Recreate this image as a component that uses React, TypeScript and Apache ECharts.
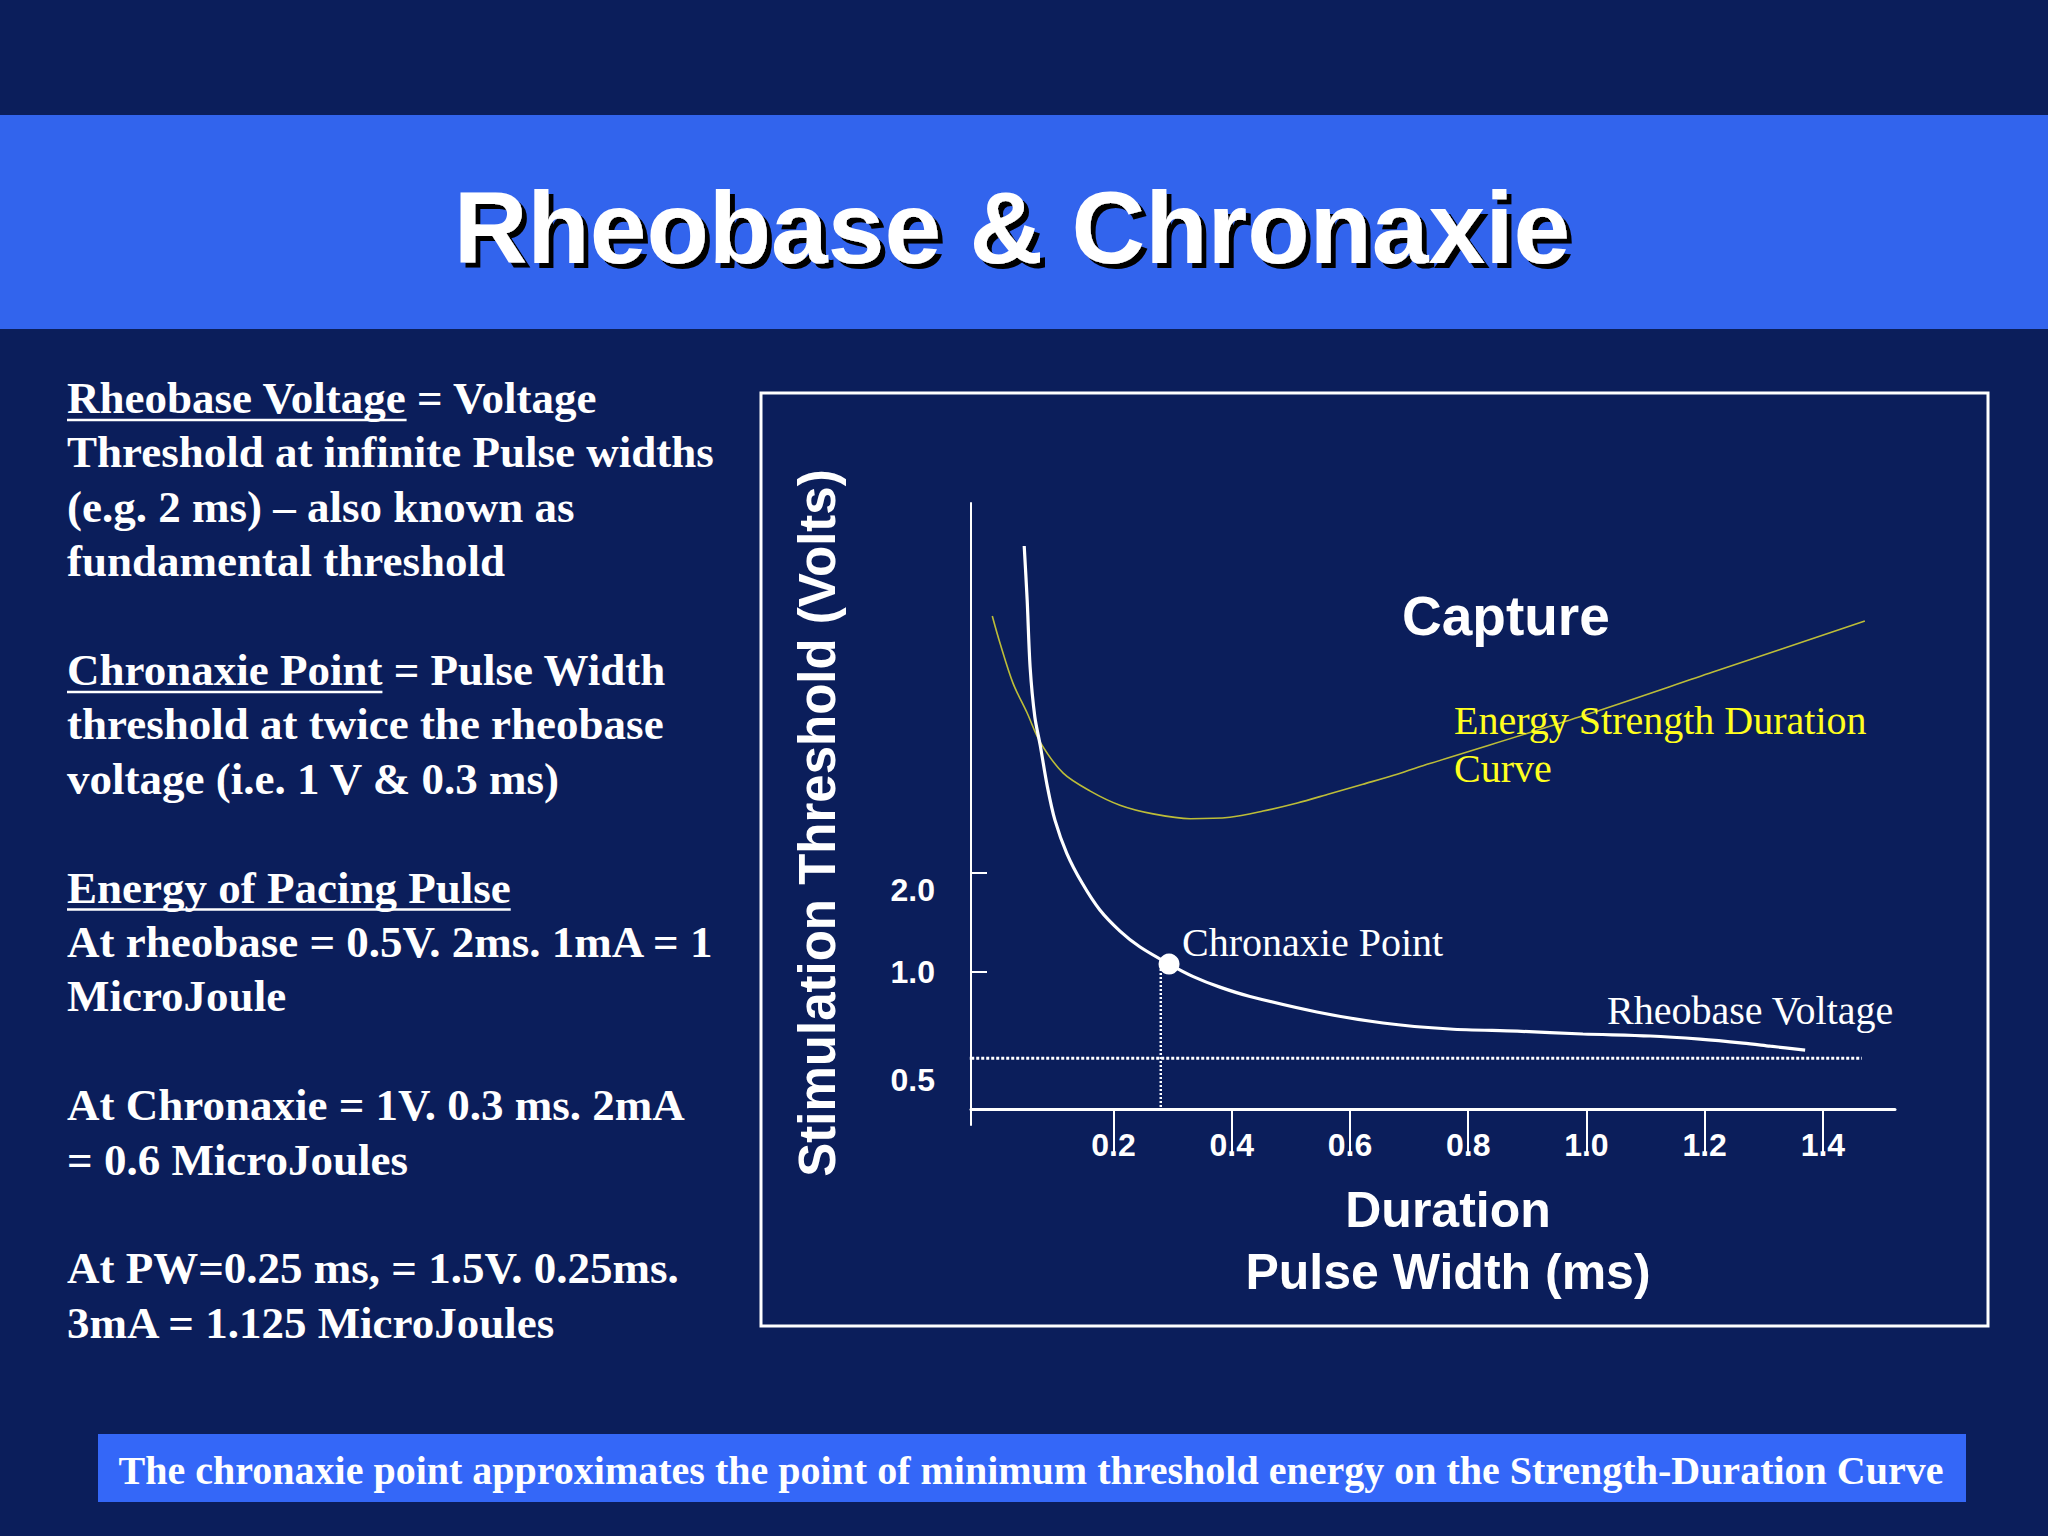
import React, { useEffect, useRef } from 'react';
import * as echarts from 'echarts';

// ---------------- data ----------------
const xTickValues = [0.2, 0.4, 0.6, 0.8, 1.0, 1.2, 1.4];
const yTickValues = [1.0, 2.0];
const yLabelValues = [0.5, 1.0, 2.0];
const xRange = [-0.041, 1.522];
const yRange = [0.3432, 26.71];

// Strength-duration curve (pulse width ms, threshold V)
const strengthDuration: [number, number][] = [
  [0.049, 19.77],
  [0.054, 13.55],
  [0.059, 8.47],
  [0.067, 5.97],
  [0.076, 4.91],
  [0.088, 3.68],
  [0.101, 2.9],
  [0.121, 2.3],
  [0.147, 1.867],
  [0.177, 1.546],
  [0.211, 1.334],
  [0.245, 1.193],
  [0.294, 1.059],
  [0.335, 0.97],
  [0.38, 0.901],
  [0.431, 0.844],
  [0.544, 0.757],
  [0.656, 0.701],
  [0.769, 0.672],
  [0.883, 0.662],
  [0.994, 0.649],
  [1.108, 0.64],
  [1.192, 0.626],
  [1.265, 0.609],
  [1.311, 0.596],
  [1.37, 0.58],
];

// Energy strength-duration curve
const energyCurve: [number, number][] = [
  [-0.005, 12.11],
  [0.008, 10.02],
  [0.03, 7.57],
  [0.054, 6.14],
  [0.076, 5.01],
  [0.115, 4.03],
  [0.16, 3.56],
  [0.211, 3.22],
  [0.267, 3.03],
  [0.33, 2.93],
  [0.397, 2.96],
  [0.453, 3.09],
  [0.511, 3.27],
  [0.566, 3.49],
  [0.622, 3.73],
  [0.68, 4.0],
  [0.735, 4.31],
  [0.989, 5.98],
  [1.214, 8.18],
  [1.471, 11.69],
];

const chronaxiePoint: [number, number] = [0.294, 1.059];
const chronaxieDropX = 0.28;
const xAxisLevel = 0.389;
const rheobaseLevel = 0.548;
const rheobaseSpan = [-0.066, 1.466];

const titleText = 'Rheobase & Chronaxie';
const yAxisTitle = 'Stimulation Threshold (Volts)';
const xAxisTitle = 'Duration\nPulse Width (ms)';
const chronaxieLabel = 'Chronaxie Point';
const rheobaseLabel = 'Rheobase Voltage';
const captureLabel = 'Capture';
const energyLabelLines = ['Energy Strength Duration', 'Curve'];
const bannerText =
  'The chronaxie point approximates the point of minimum threshold energy on the Strength-Duration Curve';

const leftLines: { slot: number; text: string; ul?: string }[] = [
  { slot: 0, text: 'Rheobase Voltage = Voltage', ul: 'Rheobase Voltage' },
  { slot: 1, text: 'Threshold at infinite Pulse widths' },
  { slot: 2, text: '(e.g. 2 ms) \u2013 also known as' },
  { slot: 3, text: 'fundamental threshold' },
  { slot: 5, text: 'Chronaxie Point = Pulse Width', ul: 'Chronaxie Point' },
  { slot: 6, text: 'threshold at twice the rheobase' },
  { slot: 7, text: 'voltage (i.e. 1 V & 0.3 ms)' },
  { slot: 9, text: 'Energy of Pacing Pulse', ul: 'Energy of Pacing Pulse' },
  { slot: 10, text: 'At rheobase = 0.5V. 2ms. 1mA = 1' },
  { slot: 11, text: 'MicroJoule' },
  { slot: 13, text: 'At Chronaxie = 1V. 0.3 ms. 2mA' },
  { slot: 14, text: '= 0.6 MicroJoules' },
  { slot: 16, text: 'At PW=0.25 ms, = 1.5V. 0.25ms.' },
  { slot: 17, text: '3mA = 1.125 MicroJoules' },
];

// ---------------- styles ----------------
const SANS = '"Liberation Sans", Arial, sans-serif';
const SERIF = '"Liberation Serif", "Times New Roman", serif';
const NAVY = '#0B1E5B';
const TITLE_BLUE = '#3264ED';
const BANNER_BLUE = '#3467F8';

function measure(text: string, font: string): number {
  const ctx = document.createElement('canvas').getContext('2d');
  if (!ctx) return text.length * 20;
  ctx.font = font;
  return ctx.measureText(text).width;
}

function buildGraphic() {
  const els: any[] = [];
  els.push({
    type: 'rect',
    z: 0,
    shape: { x: 0, y: 115, width: 2048, height: 214 },
    style: { fill: TITLE_BLUE },
  });
  els.push({
    type: 'text',
    z: 6,
    x: 1012,
    y: 228,
    style: {
      text: titleText,
      fill: '#fff',
      font: `bold 102px ${SANS}`,
      align: 'center',
      verticalAlign: 'middle',
      textShadowColor: '#000',
      textShadowBlur: 1,
      textShadowOffsetX: 5,
      textShadowOffsetY: 5,
    },
  });
  // chart frame
  els.push({
    type: 'rect',
    z: 1,
    shape: { x: 761, y: 393, width: 1227, height: 933 },
    style: { fill: 'none', stroke: '#fff', lineWidth: 3 },
  });
  // left text
  const leftFont = `bold 45px ${SERIF}`;
  leftLines.forEach((ln) => {
    const baseline = 413 + 54.4 * ln.slot;
    els.push({
      type: 'text',
      z: 5,
      x: 67,
      y: baseline - 15,
      style: { text: ln.text, fill: '#fff', font: leftFont, align: 'left', verticalAlign: 'middle' },
    });
    if (ln.ul) {
      const w = measure(ln.ul, leftFont);
      els.push({
        type: 'line',
        z: 5,
        shape: { x1: 67, y1: baseline + 7, x2: 67 + w, y2: baseline + 7 },
        style: { stroke: '#fff', lineWidth: 2.5 },
      });
    }
  });
  // chart annotations
  els.push({
    type: 'text',
    z: 5,
    x: 1402,
    y: 616,
    style: { text: captureLabel, fill: '#fff', font: `bold 55px ${SANS}`, align: 'left', verticalAlign: 'middle' },
  });
  energyLabelLines.forEach((t, i) => {
    els.push({
      type: 'text',
      z: 5,
      x: 1454,
      y: 720 + 48 * i,
      style: { text: t, fill: '#FFFF1E', font: `40px ${SERIF}`, align: 'left', verticalAlign: 'middle' },
    });
  });
  els.push({
    type: 'text',
    z: 5,
    x: 1607,
    y: 1010,
    style: { text: rheobaseLabel, fill: '#fff', font: `40px ${SERIF}`, align: 'left', verticalAlign: 'middle' },
  });
  // bottom banner
  els.push({
    type: 'rect',
    z: 0,
    shape: { x: 98, y: 1434, width: 1868, height: 68 },
    style: { fill: BANNER_BLUE },
  });
  els.push({
    type: 'text',
    z: 5,
    x: 1031,
    y: 1470,
    style: { text: bannerText, fill: '#fff', font: `bold 40px ${SERIF}`, align: 'center', verticalAlign: 'middle' },
  });
  return els;
}

export default function App() {
  const ref = useRef<HTMLDivElement>(null);

  useEffect(() => {
    if (!ref.current) return;
    const chart = echarts.init(ref.current, null, { renderer: 'svg' });
    const labelFont = { color: '#fff', fontSize: 32, fontWeight: 'bold' as const, fontFamily: SANS };
    const option: any = {
      animation: false,
      backgroundColor: NAVY,
      graphic: buildGraphic(),
      grid: { left: 971, top: 503, width: 924, height: 622, outerBoundsMode: 'none', containLabel: false },
      xAxis: {
        type: 'value',
        min: xRange[0],
        max: xRange[1],
        offset: -16,
        axisLine: { show: true, onZero: false, lineStyle: { color: '#fff', width: 3 } },
        axisTick: { show: true, customValues: xTickValues, length: 44, lineStyle: { color: '#fff', width: 2 } },
        axisLabel: {
          customValues: xTickValues,
          formatter: (v: number) => v.toFixed(1),
          margin: 20,
          ...labelFont,
        },
        splitLine: { show: false },
        name: xAxisTitle,
        nameLocation: 'middle',
        nameGap: 70,
        nameMoveOverlap: false,
        nameTextStyle: {
          color: '#fff',
          fontSize: 50,
          fontWeight: 'bold',
          fontFamily: SANS,
          lineHeight: 62,
          padding: [0, 0, 0, 30],
        },
      },
      yAxis: {
        type: 'log',
        logBase: 2,
        min: yRange[0],
        max: yRange[1],
        axisLine: { show: true, onZero: false, lineStyle: { color: '#fff', width: 2 } },
        axisTick: { show: true, inside: true, customValues: yTickValues, length: 16, lineStyle: { color: '#fff', width: 2 } },
        axisLabel: {
          customValues: yLabelValues,
          margin: 36,
          ...labelFont,
          formatter: (v: number) => {
            const t = v.toFixed(1);
            if (Math.abs(v - 2) < 1e-6) return `{d2|${t}}`;
            if (Math.abs(v - 0.5) < 1e-6) return `{d05|${t}}`;
            return `{n|${t}}`;
          },
          rich: {
            n: { ...labelFont },
            d2: { ...labelFont, padding: [34, 0, 0, 0] },
            d05: { ...labelFont, padding: [18, 0, 0, 0] },
          },
        },
        splitLine: { show: false },
        name: yAxisTitle,
        nameLocation: 'middle',
        nameRotate: 90,
        nameGap: 128,
        nameMoveOverlap: false,
        nameTextStyle: {
          color: '#fff',
          fontSize: 51,
          fontWeight: 'bold',
          fontFamily: SANS,
          padding: [0, 18, 0, 0],
        },
      },
      series: [
        {
          name: 'Energy Strength Duration Curve',
          type: 'line',
          data: energyCurve,
          showSymbol: false,
          smooth: 0.3,
          silent: true,
          z: 3,
          lineStyle: { color: '#BDBD38', width: 1.6 },
        },
        {
          name: 'Strength Duration Curve',
          type: 'line',
          data: strengthDuration,
          showSymbol: false,
          smooth: 0.3,
          silent: true,
          z: 4,
          lineStyle: { color: '#fff', width: 3.2 },
        },
        {
          name: 'Rheobase',
          type: 'line',
          data: [
            [rheobaseSpan[0], rheobaseLevel],
            [rheobaseSpan[1], rheobaseLevel],
          ],
          showSymbol: false,
          clip: false,
          silent: true,
          z: 3,
          lineStyle: { color: '#fff', width: 3, type: [3, 2], cap: 'butt' },
        },
        {
          name: 'Chronaxie drop',
          type: 'line',
          data: [
            [chronaxieDropX, xAxisLevel],
            [chronaxieDropX, chronaxiePoint[1]],
          ],
          showSymbol: false,
          silent: true,
          z: 3,
          lineStyle: { color: '#fff', width: 2.5, type: [2, 2], cap: 'butt' },
        },
        {
          name: 'Chronaxie',
          type: 'scatter',
          data: [chronaxiePoint],
          symbol: 'circle',
          symbolSize: 21,
          silent: true,
          z: 6,
          itemStyle: { color: '#fff', opacity: 1 },
          label: {
            show: true,
            formatter: chronaxieLabel,
            position: [23.5, -11],
            align: 'left',
            verticalAlign: 'middle',
            color: '#fff',
            opacity: 1,
            fontSize: 40,
            fontFamily: SERIF,
          },
        },
      ],
    };
    chart.setOption(option);
    return () => chart.dispose();
  }, []);

  return (
    <div
      ref={ref}
      style={{ position: 'fixed', left: 0, top: 0, width: 2048, height: 1536 }}
    />
  );
}
